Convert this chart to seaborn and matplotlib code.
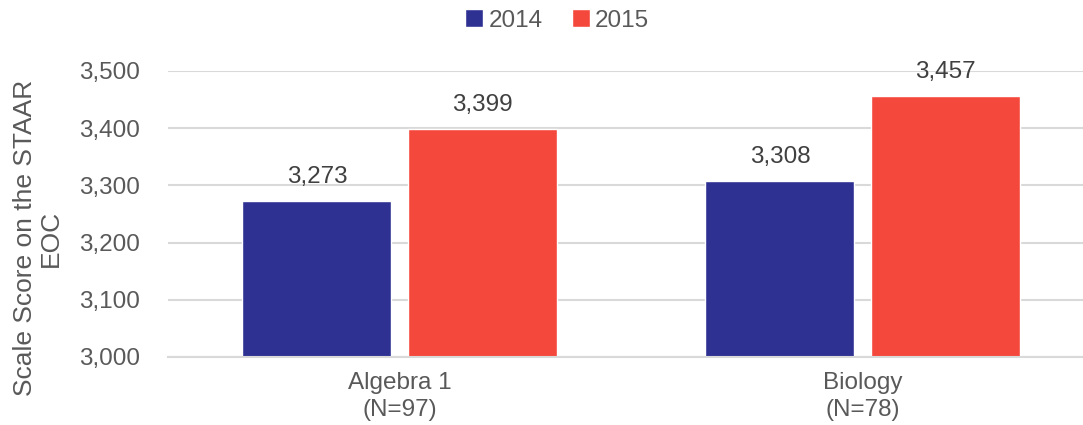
import pandas as pd
import seaborn as sns
import matplotlib.pyplot as plt

# data
subjects = ['Algebra 1\n(N=97)', 'Biology\n(N=78)']
years = ['2014', '2015']
scores_2014 = [3273, 3308]
scores_2015 = [3399, 3457]

df = pd.DataFrame({
    'Subject': subjects * 2,
    'Year': [years[0]] * 2 + [years[1]] * 2,
    'Score': scores_2014 + scores_2015,
})

sns.set_style('white')
plt.rcParams['font.family'] = ['Liberation Sans', 'DejaVu Sans']
text_col = '#595959'
fs = 17.5

fig, ax = plt.subplots(figsize=(10.83, 4.25), dpi=100)
fig.subplots_adjust(left=168/1083, right=1.0, top=1-71/425, bottom=1-357/425)

sns.barplot(data=df, x='Subject', y='Score', hue='Year',
            palette=['#2E3192', '#F4483C'], saturation=1,
            width=0.713, gap=0.097, ax=ax, legend=True)

for c in ax.containers:
    ax.bar_label(c, labels=[f'{v:,.0f}' for v in c.datavalues],
                 padding=9, fontsize=fs, color='#404040')

ax.set_ylim(3000, 3500)
ax.set_xlim(-0.5, -0.5 + 915/463)
ax.set_yticks(range(3000, 3501, 100))
ax.set_yticklabels([f'{v:,}' for v in range(3000, 3501, 100)])
ax.set_xticks(range(len(subjects)))
ax.set_xticklabels(subjects, linespacing=1.25)
ax.yaxis.grid(True, color='#D9D9D9', lw=1.5)
ax.set_axisbelow(True)
for s in ['top', 'right', 'left']:
    ax.spines[s].set_visible(False)
ax.spines['bottom'].set_color('#D9D9D9')
ax.spines['bottom'].set_linewidth(1.5)
ax.tick_params(axis='both', length=0, labelsize=fs, colors=text_col)
ax.tick_params(axis='y', pad=20)
ax.tick_params(axis='x', pad=11)
ax.set_xlabel('')
ax.set_ylabel('Scale Score on the STAAR\nEOC', fontsize=19, color=text_col,
              linespacing=1.1, labelpad=12)
ax.yaxis.label.set_y(0.416)

handles, labels = ax.get_legend_handles_labels()
ax.legend_.remove()
fig.legend(handles, labels, loc='upper center', ncol=2,
           bbox_to_anchor=(557/1083, 1.03), frameon=False, fontsize=fs,
           handlelength=0.75, handleheight=0.75, handletextpad=0.2,
           columnspacing=1.2, labelcolor=text_col)

fig.savefig('out.png', dpi=100)
